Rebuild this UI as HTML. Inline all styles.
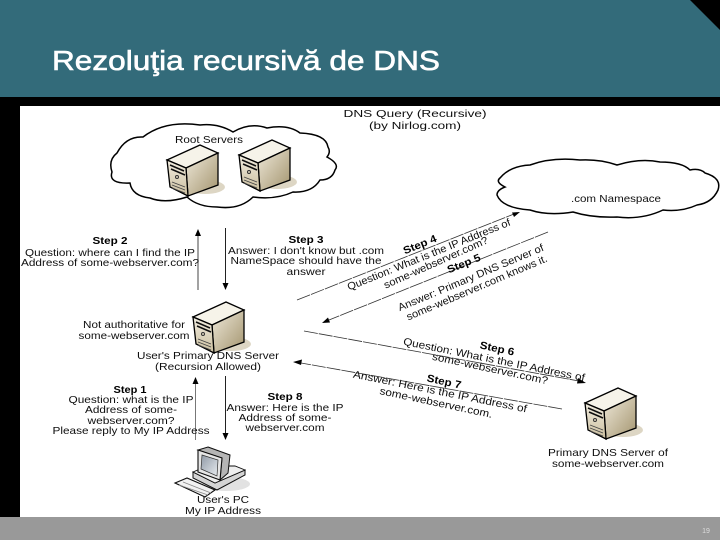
<!DOCTYPE html>
<html><head><meta charset="utf-8"><style>
html,body{margin:0;padding:0;background:#000}
svg{display:block}
.d text{font-family:"Liberation Sans",sans-serif;font-size:10.5px;fill:#111;text-anchor:middle}
.d text.b{font-weight:bold;fill:#000}
</style></head><body>
<svg width="720" height="540" viewBox="0 0 720 540" xmlns="http://www.w3.org/2000/svg">
<defs>
<filter id="bl" x="-2%" y="-2%" width="104%" height="104%"><feGaussianBlur stdDeviation="0.3"/></filter>
<linearGradient id="fr" x1="0" y1="0" x2="0" y2="1"><stop offset="0" stop-color="#f1ecdf"/><stop offset="1" stop-color="#cbbf9f"/></linearGradient>
<linearGradient id="sd" x1="0" y1="0" x2="1" y2="1"><stop offset="0" stop-color="#efe9da"/><stop offset="1" stop-color="#a3946e"/></linearGradient>
<linearGradient id="sc" x1="0" y1="0" x2="1" y2="1"><stop offset="0" stop-color="#8f99a6"/><stop offset="1" stop-color="#e8ecf0"/></linearGradient>
<g id="srv">
<ellipse cx="38" cy="42" rx="20" ry="7" fill="#ddd6c4"/>
<polygon points="0,15 33,0 51,8 19,23" fill="#f6f3e9" stroke="#000" stroke-width="1.3"/>
<polygon points="19,23 51,8 51,40 21,51" fill="url(#sd)" stroke="#000" stroke-width="1.3"/>
<polygon points="0,15 19,23 21,51 3,42" fill="url(#fr)" stroke="#000" stroke-width="1.3"/>
<path d="M3,20L17,26M4,24L18,30" stroke="#111" stroke-width="1.5"/>
<circle cx="10" cy="32" r="1.5" fill="none" stroke="#333"/>
<path d="M5,37L18,42M5,40L18,45M5,43L18,48" stroke="#444" stroke-width="0.9"/>
</g>
</defs>
<rect width="720" height="540" fill="#000"/>
<polygon points="0,0 690,0 720,30 720,97 0,97" fill="#336b7a"/>
<rect x="20" y="106" width="700" height="411" fill="#fff"/>
<rect x="0" y="517" width="720" height="23" fill="#999"/>
<text x="52" y="70" font-family="Liberation Sans,sans-serif" font-size="28" fill="#fff" stroke="#fff" stroke-width="0.6" textLength="388" lengthAdjust="spacingAndGlyphs">Rezoluţia recursivă de DNS</text>
<text x="706" y="533" font-family="Liberation Sans,sans-serif" font-size="7" fill="#ddd" text-anchor="middle">19</text>

<g class="d" filter="url(#bl)">
<path d="M112,172 Q108,160 117,153 Q126,136 143,137 Q165,120 200,125 Q218,123 233,132 Q250,122 267,128 Q288,124 300,133 Q326,134 328,147 Q331,152 327,157 Q340,164 335,170 Q332,180 320,180 Q312,193 293,192 Q276,200 253,197 Q240,210 217,207 Q198,207 187,197 Q165,204 150,198 Q132,196 130,183 Q108,184 112,172 Z" fill="#fff" stroke="#000" stroke-width="1.5"/>
<path d="M505,187 Q495,182 500,178 Q510,166 530,165 Q552,157 580,160 Q600,159 617,165 Q640,158 660,162 Q682,162 690,170 Q700,168 705,173 Q722,178 718,190 Q712,203 697,205 Q682,212 663,210 Q642,220 617,217 Q592,218 573,212 Q548,216 530,210 Q502,208 497,195 Q497,190 505,187 Z" fill="#fff" stroke="#000" stroke-width="1.5"/>

<use href="#srv" x="167" y="145"/>
<use href="#srv" x="239" y="140"/>
<use href="#srv" x="193" y="302"/>
<use href="#srv" x="585" y="388"/>

<!-- PC -->
<ellipse cx="226" cy="484" rx="24" ry="7" fill="#e2e2e2"/>
<polygon points="193,472 215,483 245,470 245,475 217,490 193,478" fill="#d4d4d4" stroke="#111" stroke-width="1"/>
<polygon points="193,472 207,466 235,466 245,470 215,483" fill="#eeeeee" stroke="#111" stroke-width="0.9"/>
<polygon points="208,447 230,455 228,473 220,480 222,458 198,450" fill="#b5b5b5" stroke="#111" stroke-width="1"/>
<polygon points="198,450 222,458 220,480 198,472" fill="#e6e6e6" stroke="#111" stroke-width="1.1"/>
<polygon points="202,455 218,460 217,476 201,469" fill="url(#sc)" stroke="#333" stroke-width="0.7"/>
<polygon points="175,483 187,478 215,490 205,497" fill="#f2f2f2" stroke="#111" stroke-width="1.1"/>
<path d="M179,485L208,495M183,482L211,493" stroke="#888" stroke-width="0.8"/>

<!-- vertical arrows -->
<path d="M198,290V234" stroke="#666" stroke-width="1.2"/><polygon points="198,229 195,236 201,236" fill="#000"/>
<path d="M225.5,228V284" stroke="#222" stroke-width="1"/><polygon points="225.5,290 222.5,283 228.5,283" fill="#000"/>
<path d="M195.5,440V382" stroke="#777" stroke-width="1"/><polygon points="195.5,377 192.5,384 198.5,384" fill="#000"/>
<path d="M225.5,376V434" stroke="#222" stroke-width="1"/><polygon points="225.5,440 222.5,433 228.5,433" fill="#000"/>

<!-- diagonal lines -->
<path d="M297,300L514,214" stroke="#333" stroke-width="0.8" stroke-dasharray="14 1"/><polygon points="520,212 512,212.5 514,217" fill="#000"/>
<path d="M548,232L329,320" stroke="#333" stroke-width="0.8" stroke-dasharray="14 1"/><polygon points="322,323 330,322.5 328,317.5" fill="#000"/>
<path d="M304,331L579,381" stroke="#333" stroke-width="0.8" stroke-dasharray="14 1"/><polygon points="586,383 578,378 577,383.5" fill="#000"/>
<path d="M562,409L301,363" stroke="#333" stroke-width="0.8" stroke-dasharray="14 1"/><polygon points="293,362 302,359.5 301,365" fill="#000"/>

<!-- labels -->
<text x="415" y="117" font-size="11" textLength="143" lengthAdjust="spacingAndGlyphs">DNS Query (Recursive)</text>
<text x="415" y="129" textLength="92" lengthAdjust="spacingAndGlyphs">(by Nirlog.com)</text>
<text x="209" y="143" textLength="68" lengthAdjust="spacingAndGlyphs">Root Servers</text>
<text x="616" y="202" textLength="90" lengthAdjust="spacingAndGlyphs">.com Namespace</text>

<text class="b" x="110" y="244" textLength="35" lengthAdjust="spacingAndGlyphs">Step 2</text>
<text x="110" y="256" textLength="170" lengthAdjust="spacingAndGlyphs">Question: where can I find the IP</text>
<text x="110" y="266" textLength="178" lengthAdjust="spacingAndGlyphs">Address of some-webserver.com?</text>

<text class="b" x="306" y="243" textLength="35" lengthAdjust="spacingAndGlyphs">Step 3</text>
<text x="306" y="254" textLength="156" lengthAdjust="spacingAndGlyphs">Answer: I don't know but .com</text>
<text x="306" y="264" textLength="151" lengthAdjust="spacingAndGlyphs">NameSpace should have the</text>
<text x="306" y="275" textLength="39" lengthAdjust="spacingAndGlyphs">answer</text>

<text x="134" y="328" textLength="102" lengthAdjust="spacingAndGlyphs">Not authoritative for</text>
<text x="134" y="339" textLength="111" lengthAdjust="spacingAndGlyphs">some-webserver.com</text>
<text x="208" y="359" textLength="142" lengthAdjust="spacingAndGlyphs">User's Primary DNS Server</text>
<text x="208" y="370" textLength="106" lengthAdjust="spacingAndGlyphs">(Recursion Allowed)</text>

<text class="b" x="130" y="393" textLength="33" lengthAdjust="spacingAndGlyphs">Step 1</text>
<text x="131" y="403" textLength="125" lengthAdjust="spacingAndGlyphs">Question: what is the IP</text>
<text x="131" y="413" textLength="92" lengthAdjust="spacingAndGlyphs">Address of some-</text>
<text x="131" y="424" textLength="87" lengthAdjust="spacingAndGlyphs">webserver.com?</text>
<text x="131" y="434" textLength="157" lengthAdjust="spacingAndGlyphs">Please reply to My IP Address</text>

<text class="b" x="285" y="400" textLength="35" lengthAdjust="spacingAndGlyphs">Step 8</text>
<text x="285" y="411" textLength="117" lengthAdjust="spacingAndGlyphs">Answer: Here is the IP</text>
<text x="285" y="421" textLength="93" lengthAdjust="spacingAndGlyphs">Address of some-</text>
<text x="285" y="431" textLength="79" lengthAdjust="spacingAndGlyphs">webserver.com</text>

<text x="223" y="503" textLength="52" lengthAdjust="spacingAndGlyphs">User's PC</text>
<text x="223" y="514" textLength="76" lengthAdjust="spacingAndGlyphs">My IP Address</text>
<text x="608" y="456" textLength="120" lengthAdjust="spacingAndGlyphs">Primary DNS Server of</text>
<text x="608" y="467" textLength="112" lengthAdjust="spacingAndGlyphs">some-webserver.com</text>

<g transform="translate(420,245) rotate(-22)"><text class="b" y="3" textLength="35" lengthAdjust="spacingAndGlyphs">Step 4</text></g>
<g transform="translate(429,255) rotate(-22)"><text y="3" textLength="175" lengthAdjust="spacingAndGlyphs">Question: What is the IP Address of</text></g>
<g transform="translate(436,263) rotate(-24)"><text y="3" textLength="113" lengthAdjust="spacingAndGlyphs">some-webserver.com?</text></g>
<g transform="translate(464,264) rotate(-22)"><text class="b" y="3" textLength="35" lengthAdjust="spacingAndGlyphs">Step 5</text></g>
<g transform="translate(471,278) rotate(-22.8)"><text y="3" textLength="157" lengthAdjust="spacingAndGlyphs">Answer: Primary DNS Server of</text></g>
<g transform="translate(477,288) rotate(-23)"><text y="3" textLength="152" lengthAdjust="spacingAndGlyphs">some-webserver.com knows it.</text></g>

<g transform="translate(497,349) rotate(12)"><text class="b" y="3" textLength="35" lengthAdjust="spacingAndGlyphs">Step 6</text></g>
<g transform="translate(494,360) rotate(11.4)"><text y="3" textLength="185" lengthAdjust="spacingAndGlyphs">Question: What is the IP Address of</text></g>
<g transform="translate(490,369) rotate(12)"><text y="3" textLength="118" lengthAdjust="spacingAndGlyphs">some-webserver.com?</text></g>
<g transform="translate(444,382) rotate(12)"><text class="b" y="3" textLength="35" lengthAdjust="spacingAndGlyphs">Step 7</text></g>
<g transform="translate(440,392) rotate(11.4)"><text y="3" textLength="177" lengthAdjust="spacingAndGlyphs">Answer: Here is the IP Address of</text></g>
<g transform="translate(436,403) rotate(12)"><text y="3" textLength="115" lengthAdjust="spacingAndGlyphs">some-webserver.com.</text></g>
</g>
</svg>
</body></html>
